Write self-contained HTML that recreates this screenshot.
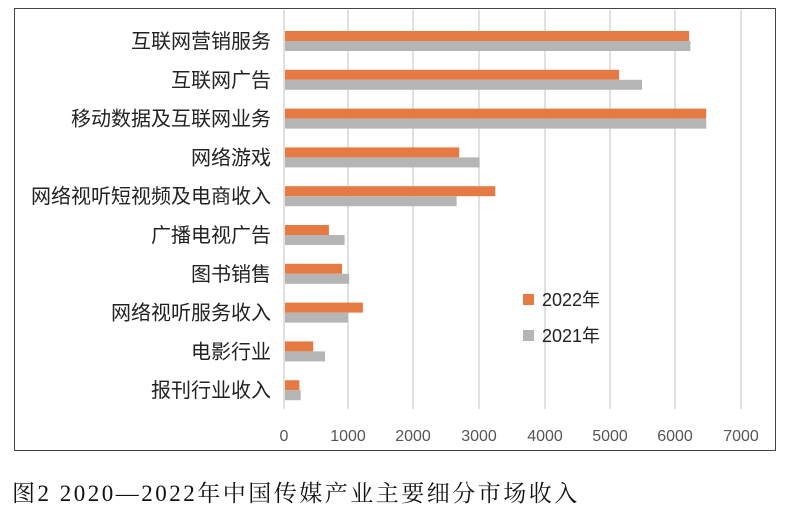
<!DOCTYPE html>
<html><head><meta charset="utf-8"><style>
body{margin:0;background:#fff;}
svg{display:block;}
.l{font-family:"Liberation Sans","Noto Sans CJK SC",sans-serif;font-size:20px;fill:#222;}
.g{font-family:"Liberation Sans","Noto Sans CJK SC",sans-serif;font-size:18px;fill:#222;}
.t{font-family:"Liberation Sans",sans-serif;font-size:16px;fill:#555;}
.c{font-family:"Liberation Serif","Noto Serif CJK SC",serif;font-size:23px;fill:#111;letter-spacing:2.5px;}
</style></head><body>
<svg width="790" height="521" xmlns="http://www.w3.org/2000/svg">
<rect x="14.5" y="8.5" width="761" height="442" fill="#fff" stroke="#444" stroke-width="1"/>
<g stroke="#d6d6d6" stroke-width="1.5">
<line x1="284" y1="10" x2="284" y2="409"/>
<line x1="348" y1="10" x2="348" y2="409"/>
<line x1="413" y1="10" x2="413" y2="409"/>
<line x1="479" y1="10" x2="479" y2="409"/>
<line x1="545" y1="10" x2="545" y2="409"/>
<line x1="610" y1="10" x2="610" y2="409"/>
<line x1="675" y1="10" x2="675" y2="409"/>
<line x1="741" y1="10" x2="741" y2="409"/>
</g>
<g fill="#e57a43">
<rect x="285" y="31" width="404.1" height="10"/>
<rect x="285" y="69.8" width="334.1" height="10"/>
<rect x="285" y="108.6" width="421.2" height="10"/>
<rect x="285" y="147.4" width="174.2" height="10"/>
<rect x="285" y="186.2" width="210.3" height="10"/>
<rect x="285" y="225" width="43.9" height="10"/>
<rect x="285" y="263.8" width="57" height="10"/>
<rect x="285" y="302.6" width="77.9" height="10"/>
<rect x="285" y="341.4" width="28.2" height="10"/>
<rect x="285" y="380.2" width="14.4" height="10"/>
</g>
<g fill="#b5b5b5">
<rect x="285" y="41" width="405.4" height="10"/>
<rect x="285" y="79.8" width="357" height="10"/>
<rect x="285" y="118.6" width="421.2" height="10"/>
<rect x="285" y="157.4" width="194.5" height="10"/>
<rect x="285" y="196.2" width="171.6" height="10"/>
<rect x="285" y="235" width="59.6" height="10"/>
<rect x="285" y="273.8" width="64.2" height="10"/>
<rect x="285" y="312.6" width="62.9" height="10"/>
<rect x="285" y="351.4" width="40" height="10"/>
<rect x="285" y="390.2" width="15.7" height="10"/>
</g>
<g class="l" text-anchor="end">
<text x="271" y="48">互联网营销服务</text>
<text x="271" y="86.8">互联网广告</text>
<text x="271" y="125.6">移动数据及互联网业务</text>
<text x="271" y="164.4">网络游戏</text>
<text x="271" y="203.2">网络视听短视频及电商收入</text>
<text x="271" y="242">广播电视广告</text>
<text x="271" y="280.8">图书销售</text>
<text x="271" y="319.6">网络视听服务收入</text>
<text x="271" y="358.4">电影行业</text>
<text x="271" y="397.2">报刊行业收入</text>
</g>
<g class="t" text-anchor="middle">
<text x="284" y="441">0</text><text x="348" y="441">1000</text><text x="413" y="441">2000</text><text x="479" y="441">3000</text><text x="545" y="441">4000</text><text x="610" y="441">5000</text><text x="675" y="441">6000</text><text x="741" y="441">7000</text>
</g>
<rect x="523" y="294" width="11" height="11" fill="#e57a43"/>
<text class="g" x="542" y="306">2022年</text>
<rect x="523" y="330" width="11" height="11" fill="#b5b5b5"/>
<text class="g" x="542" y="342">2021年</text>
<text class="c" x="12" y="501">图2 2020—2022年中国传媒产业主要细分市场收入</text>
</svg>
</body></html>
